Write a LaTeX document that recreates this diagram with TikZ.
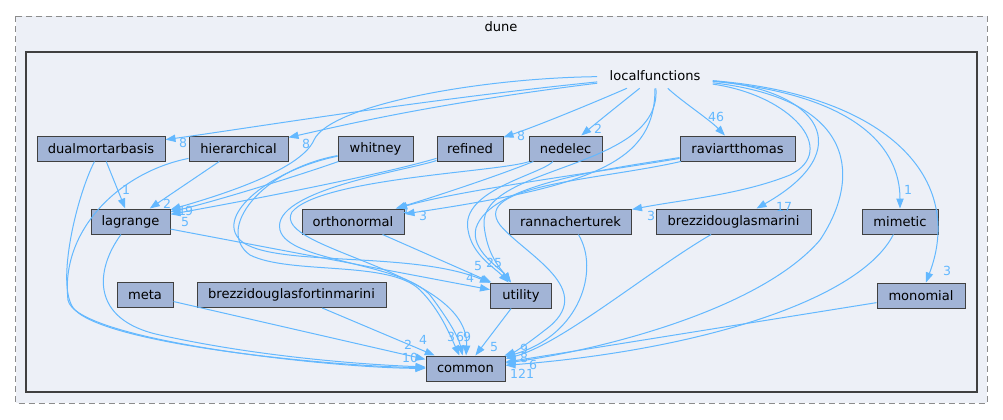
\documentclass[tikz,border=0pt]{standalone}
\usepackage{fontspec}
\setmainfont{DejaVu Sans}
\usepackage{tikz}
\usetikzlibrary{arrows.meta}
\definecolor{dirfill}{HTML}{A2B4D6}
\definecolor{dirline}{HTML}{404040}
\definecolor{edgeblue}{HTML}{63B8FF}
\definecolor{clusterfill}{HTML}{EDF0F7}
\tikzstyle{folder}=[
        rectangle,
        draw=dirline,
        fill=dirfill,
        line width=0.75pt,
        minimum height=18.75pt,
        inner sep=0pt,
        font=\fontsize{9.8}{11}\selectfont
]
\tikzstyle{outer}=[draw=black!45,dashed,dash pattern=on 4.5pt off 3pt,fill=clusterfill,line width=0.75pt]
\tikzstyle{inner}=[draw=dirline,fill=clusterfill,line width=1.6pt]
\tikzstyle{clabel}=[inner sep=0pt,font=\fontsize{9.8}{11}\selectfont]
\tikzstyle{lbl}=[inner sep=0pt,text=edgeblue,font=\fontsize{9.4}{11}\selectfont]
\tikzstyle{dep}=[->,>={Triangle[length=7.5pt,width=5.5pt]},draw=edgeblue,line width=0.75pt]

\begin{document}
\begin{tikzpicture}[x=0.75pt,y=-0.75pt]
\useasboundingbox (0,0) rectangle (1003,419);
\draw[outer] (15.5,16) rectangle (987,403);
\node[clabel] (dune) at (501,27) {dune};
\draw[inner] (26,52) rectangle (977,392);
\node[clabel,minimum width=86.25pt,minimum height=18pt] (lf) at (655,76) {localfunctions};
\node[folder,minimum width=96pt] (dual) at (101,148.5) {dualmortarbasis};
\node[folder,minimum width=74.25pt] (hier) at (238.5,148.5) {hierarchical};
\node[folder,minimum width=56.25pt] (whit) at (375.5,148.5) {whitney};
\node[folder,minimum width=49.5pt] (refi) at (470,148.5) {refined};
\node[folder,minimum width=54.75pt] (nede) at (565.5,148.5) {nedelec};
\node[folder,minimum width=86.25pt] (ravi) at (737.5,148.5) {raviartthomas};
\node[folder,minimum width=59.25pt] (lagr) at (130.5,221.5) {lagrange};
\node[folder,minimum width=76.5pt] (orth) at (353,221.5) {orthonormal};
\node[folder,minimum width=91.5pt] (rann) at (570.5,221.5) {rannacherturek};
\node[folder,minimum width=116.25pt] (bdm) at (733.5,221.5) {brezzidouglasmarini};
\node[folder,minimum width=57pt] (mime) at (900,221.5) {mimetic};
\node[folder,minimum width=42pt] (meta) at (145,295) {meta};
\node[folder,minimum width=141.75pt] (bdfm) at (291.5,295) {brezzidouglasfortinmarini};
\node[folder,minimum width=45.75pt] (util) at (521,295.5) {utility};
\node[folder,minimum width=66pt] (mono) at (921,295.5) {monomial};
\node[folder,minimum width=59.25pt] (comm) at (465.5,368.5) {common};
% localfunctions
\draw[dep] (lf) .. controls (420,100) and (250,128) .. (dual) node[lbl] at (183,143) {8};
\draw[dep] (lf) .. controls (430,104) and (340,126) .. (hier) node[lbl] at (306,144) {8};
\draw[dep] (lf) .. controls (480,78) and (330,105) .. (314,140) .. controls (300,172) and (210,198) .. (lagr) node[lbl] at (189,211) {9};
\draw[dep] (lf) .. controls (600,100) and (540,125) .. (refi) node[lbl] at (521,136) {8};
\draw[dep] (lf) .. controls (625,100) and (600,120) .. (nede) node[lbl] at (598,129) {2};
\draw[dep] (lf) .. controls (680,100) and (710,120) .. (ravi) node[lbl] at (716,117) {46};
\draw[dep] (lf) .. controls (655,160) and (600,185) .. (orth) node[lbl] at (423,216) {3};
\draw[dep] (lf) .. controls (662,170) and (480,165) .. (484,225) .. controls (487,255) and (500,268) .. (util) node[lbl] at (498,263) {5};
\draw[dep] (lf) .. controls (860,100) and (860,180) .. (820,240) .. controls (760,310) and (600,350) .. (comm) node[lbl] at (518,374) {12};
\draw[dep] (lf) .. controls (790,95) and (840,150) .. (790,175) .. controls (740,195) and (680,200) .. (rann) node[lbl] at (651,216) {3};
\draw[dep] (lf) .. controls (820,90) and (860,150) .. (bdm) node[lbl] at (784,207) {17};
\draw[dep] (lf) .. controls (860,95) and (900,150) .. (mime) node[lbl] at (908,190) {1};
\draw[dep] (lf) .. controls (890,95) and (965,180) .. (mono) node[lbl] at (947,271) {3};
% subfolders
\draw[dep] (dual) -- (lagr) node[lbl] at (126,190) {1};
\draw[dep] (dual) .. controls (75,200) and (55,290) .. (75,310) .. controls (110,345) and (330,366) .. (comm) node[lbl] at (410,358) {10};
\draw[dep] (hier) -- (lagr) node[lbl] at (167,204) {2};
\draw[dep] (hier) .. controls (120,172) and (60,230) .. (68,300) .. controls (75,340) and (330,368) .. (comm);
\draw[dep] (lagr) .. controls (95,270) and (90,320) .. (160,335) .. controls (250,355) and (350,364) .. (comm);
\draw[dep] (lagr) -- (util) node[lbl] at (470,278) {4};
\draw[dep] (whit) .. controls (300,175) and (220,200) .. (lagr) node[lbl] at (182,211) {1};
\draw[dep] (whit) .. controls (270,170) and (215,215) .. (240,240) .. controls (270,268) and (410,250) .. (util) node[lbl] at (478,266) {5};
\draw[dep] (whit) .. controls (260,170) and (215,230) .. (250,255) .. controls (290,275) and (390,260) .. (420,290) .. controls (440,310) and (450,335) .. (comm) node[lbl] at (451,337) {3};
\draw[dep] (refi) .. controls (380,175) and (250,200) .. (lagr) node[lbl] at (185,222) {5};
\draw[dep] (refi) .. controls (410,170) and (270,190) .. (280,230) .. controls (288,262) and (400,262) .. (430,295) .. controls (445,315) and (458,335) .. (comm) node[lbl] at (460,337) {6};
\draw[dep] (nede) .. controls (500,175) and (440,195) .. (orth) node[lbl] at (406,209) {1};
\draw[dep] (nede) .. controls (500,172) and (320,178) .. (292,212) .. controls (270,250) and (470,270) .. (comm) node[lbl] at (467,337) {9};
\draw[dep] (nede) .. controls (540,175) and (460,190) .. (468,230) .. controls (472,255) and (495,268) .. (util) node[lbl] at (490,263) {2};
\draw[dep] (ravi) .. controls (600,172) and (460,190) .. (orth);
\draw[dep] (ravi) .. controls (600,170) and (490,185) .. (476,228) .. controls (470,250) and (500,268) .. (util);
\draw[dep] (ravi) .. controls (600,180) and (470,185) .. (500,225) .. controls (525,255) and (600,290) .. (545,330) .. controls (530,342) and (515,352) .. (comm) node[lbl] at (524,349) {9};
\draw[dep] (orth) -- (util);
\draw[dep] (util) -- (comm) node[lbl] at (494,347) {5};
\draw[dep] (meta) -- (comm) node[lbl] at (408,345) {2};
\draw[dep] (bdfm) -- (comm) node[lbl] at (423,340) {4};
\draw[dep] (rann) .. controls (600,270) and (580,335) .. (comm) node[lbl] at (524,358) {8};
\draw[dep] (bdm) .. controls (650,270) and (560,345) .. (comm) node[lbl] at (533,365) {6};
\draw[dep] (mime) .. controls (860,300) and (700,350) .. (comm);
\draw[dep] (mono) -- (comm) node[lbl] at (530,374) {1};
\end{tikzpicture}
\end{document}
